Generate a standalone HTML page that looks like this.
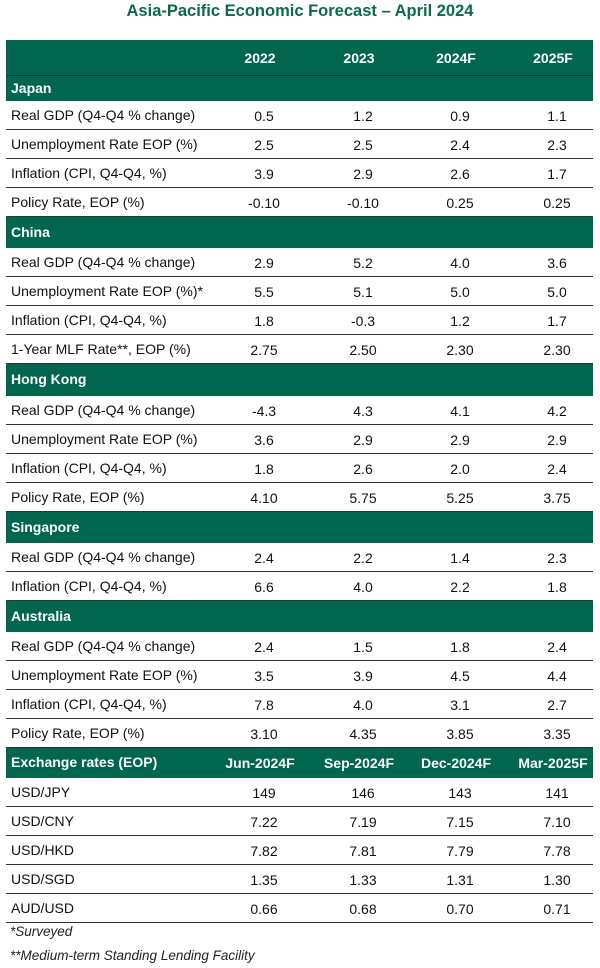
<!DOCTYPE html>
<html><head><meta charset="utf-8">
<style>
body{margin:0;width:600px;height:968px;background:#fff;font-family:"Liberation Sans",Arial,sans-serif;position:relative;overflow:hidden}
#title{position:absolute;top:2px;left:0;width:600px;text-align:center;font-weight:bold;font-size:16.5px;color:#0b6a4e}
.row{position:absolute;left:6px;width:587px;box-sizing:border-box}
.band{background:#00664e;color:#fff;font-weight:bold}
.data{border-bottom:1.5px solid #333;color:#111}
.lab{position:absolute;left:5px;font-size:14px;white-space:nowrap}
.val{position:absolute;width:90px;margin-left:-45px;text-align:center;font-size:14px}
.foot{position:absolute;left:10px;font-style:italic;font-size:13.5px;color:#222}
</style></head><body>
<div id="title">Asia-Pacific Economic Forecast – April 2024</div>
<div id="tbl"></div>
<div class="foot" style="top:924px">*Surveyed</div>
<div class="foot" style="top:948px">**Medium-term Standing Lending Facility</div>
<script>
const colCenters=[264,363,460,557];
const yearHeaders=["2022","2023","2024F","2025F"];
const fxHeaders=["Jun-2024F","Sep-2024F","Dec-2024F","Mar-2025F"];
const japan=[["Real GDP (Q4-Q4 % change)","0.5","1.2","0.9","1.1"],["Unemployment Rate EOP (%)","2.5","2.5","2.4","2.3"],["Inflation (CPI, Q4-Q4, %)","3.9","2.9","2.6","1.7"],["Policy Rate, EOP (%)","-0.10","-0.10","0.25","0.25"]];
const china=[["Real GDP (Q4-Q4 % change)","2.9","5.2","4.0","3.6"],["Unemployment Rate EOP (%)*","5.5","5.1","5.0","5.0"],["Inflation (CPI, Q4-Q4, %)","1.8","-0.3","1.2","1.7"],["1-Year MLF Rate**, EOP (%)","2.75","2.50","2.30","2.30"]];
const hk=[["Real GDP (Q4-Q4 % change)","-4.3","4.3","4.1","4.2"],["Unemployment Rate EOP (%)","3.6","2.9","2.9","2.9"],["Inflation (CPI, Q4-Q4, %)","1.8","2.6","2.0","2.4"],["Policy Rate, EOP (%)","4.10","5.75","5.25","3.75"]];
const sg=[["Real GDP (Q4-Q4 % change)","2.4","2.2","1.4","2.3"],["Inflation (CPI, Q4-Q4, %)","6.6","4.0","2.2","1.8"]];
const au=[["Real GDP (Q4-Q4 % change)","2.4","1.5","1.8","2.4"],["Unemployment Rate EOP (%)","3.5","3.9","4.5","4.4"],["Inflation (CPI, Q4-Q4, %)","7.8","4.0","3.1","2.7"],["Policy Rate, EOP (%)","3.10","4.35","3.85","3.35"]];
const fx=[["USD/JPY","149","146","143","141"],["USD/CNY","7.22","7.19","7.15","7.10"],["USD/HKD","7.82","7.81","7.79","7.78"],["USD/SGD","1.35","1.33","1.31","1.30"],["AUD/USD","0.66","0.68","0.70","0.71"]];
const tbl=document.getElementById('tbl');
let y=40;
function row(cls,h,cells,name,hdr){
  const r=document.createElement('div');
  r.className='row '+cls;
  r.style.top=y+'px';r.style.height=h+'px';
  
  
  cells.forEach((t,i)=>{
    if(t==='')return;
    const s=document.createElement('div');
    s.textContent=t;
    if(i===0){s.className='lab';s.style.top=(h/2-9)+'px';
      }
    else{s.className='val';s.style.left=(colCenters[i-1]-6-(hdr?4:0))+'px';
      s.style.top=(h/2-8)+'px';
      }
    
    r.appendChild(s);
  });
  tbl.appendChild(r);y+=h;
}
row('band',36,['',...yearHeaders],'year-header-row',true);
tbl.lastChild.style.borderBottom='1px solid #003a2c';
function group(name,rows,bh){
  row('band',bh,[name,'','','',''],name.toLowerCase().replace(/ /g,'-')+'-header');
  rows.forEach(r=>row('data',29,r,'data-row'));
}
group('Japan',japan,25);
group('China',china,31);
group('Hong Kong',hk,32);
group('Singapore',sg,31);
group('Australia',au,31);
row('band',30,['Exchange rates (EOP)',...fxHeaders],'exchange-header-row',true);
fx.forEach(r=>row('data',29,r,'fx-row'));
</script>
</body></html>
